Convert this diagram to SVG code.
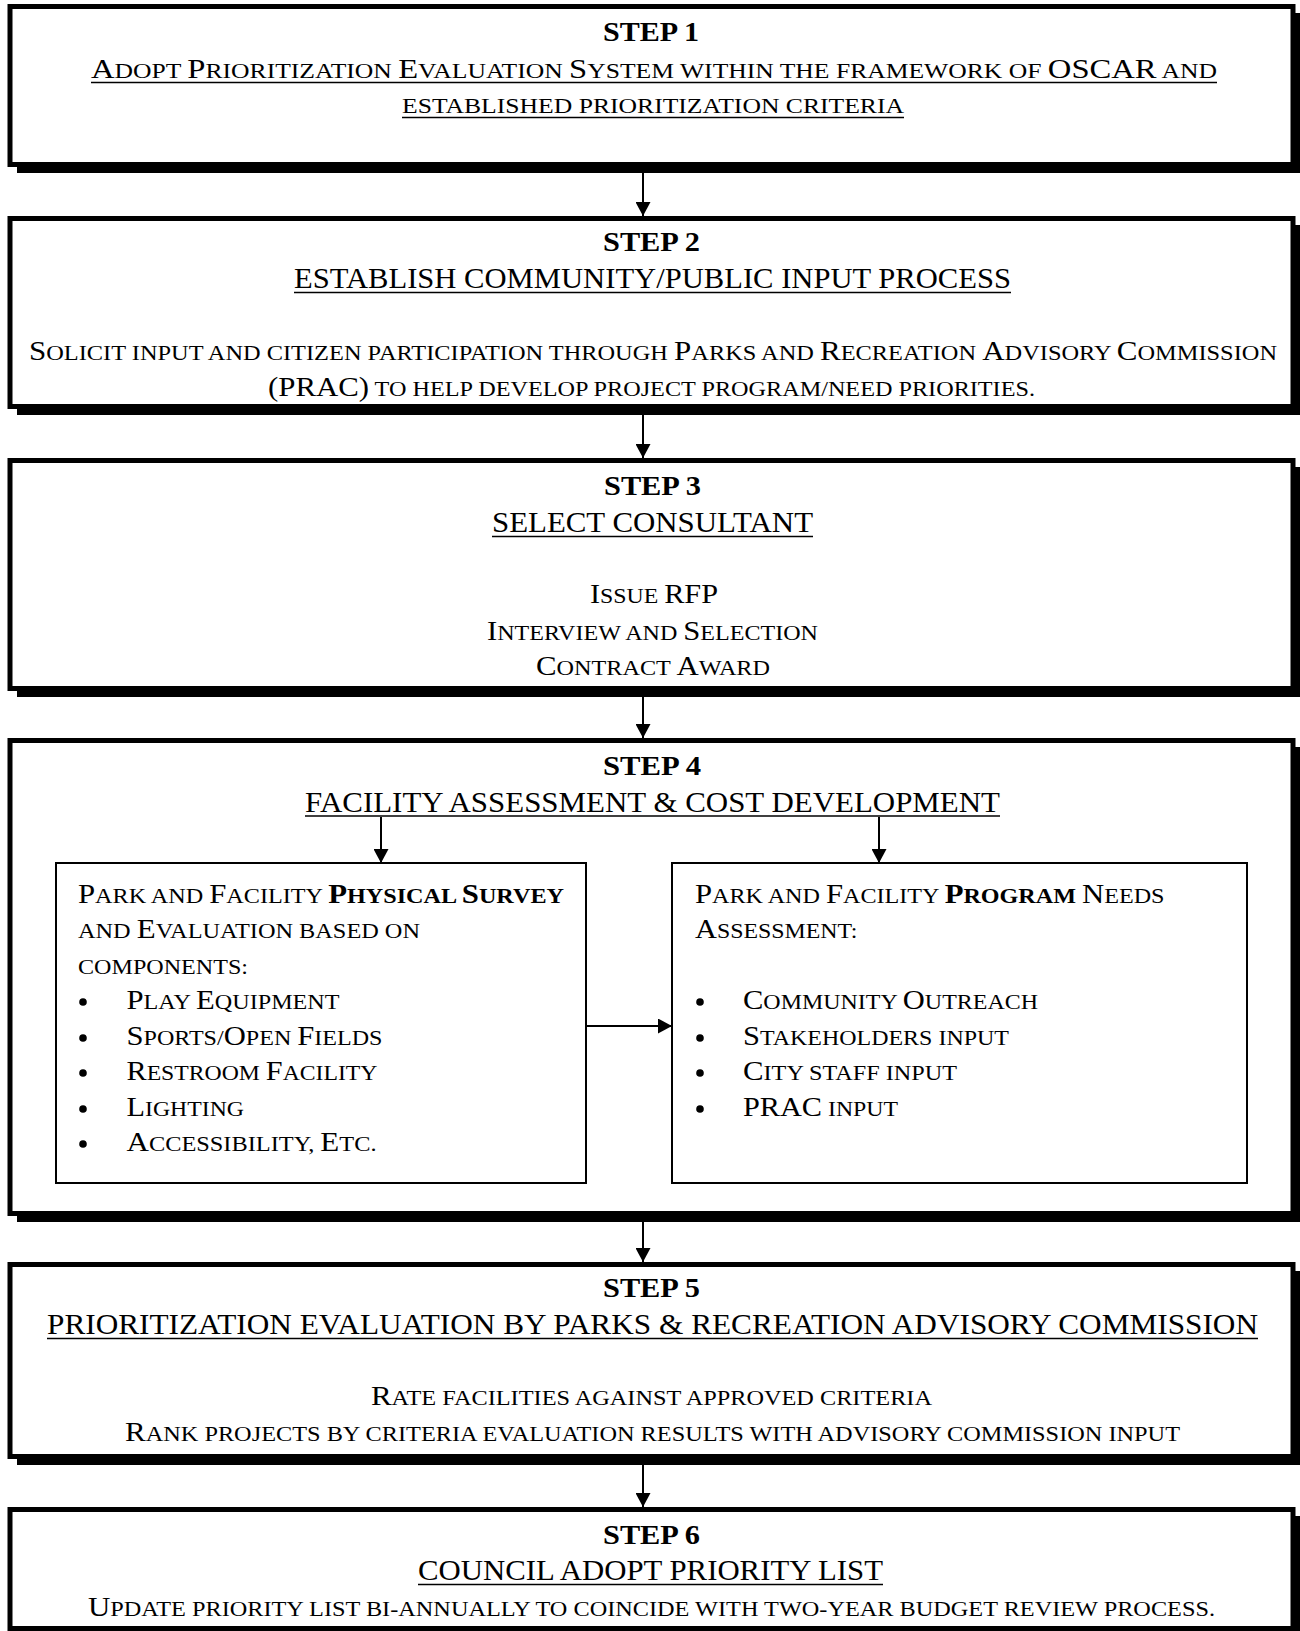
<svg xmlns="http://www.w3.org/2000/svg" width="1300" height="1631" viewBox="0 0 1300 1631">
<style>
.shadow{fill:#000}
.box{fill:#fff;stroke:#000;stroke-width:5}
.inner{fill:#fff;stroke:#000;stroke-width:2}
text{font-family:"Liberation Serif","Times New Roman",serif;fill:#000}
.st{font-size:28px;font-weight:bold}
.hd{font-size:29px}
.sc{font-size:22px}
.B{font-size:28px}
.bd{font-weight:bold}
.ul{stroke:#000;stroke-width:1.6}
.conn{stroke:#000;stroke-width:2;fill:none;marker-end:url(#ah)}
.dot{fill:#000}
</style>
<defs>
<marker id="ah" markerUnits="userSpaceOnUse" markerWidth="14" markerHeight="15" refX="14" refY="7.5" orient="auto">
<path d="M0,0 L14,7.5 L0,15 z" fill="#000"/>
</marker>
</defs>
<rect width="1300" height="1631" fill="#fff"/>

<g id="step1">
<rect class="shadow" x="17" y="13" width="1290" height="160"/>
<rect class="box" x="10" y="6.5" width="1283" height="158"/>
<text class="st" x="603" y="41" textLength="96" lengthAdjust="spacingAndGlyphs">STEP 1</text>
<text class="sc" x="91" y="78" textLength="1126" lengthAdjust="spacingAndGlyphs"><tspan class="B">A</tspan>DOPT <tspan class="B">P</tspan>RIORITIZATION <tspan class="B">E</tspan>VALUATION <tspan class="B">S</tspan>YSTEM WITHIN THE FRAMEWORK OF <tspan class="B">OSCAR</tspan> AND</text>
<line class="ul" x1="91" y1="82.5" x2="1217" y2="82.5"/>
<text class="sc" x="402" y="113" textLength="502" lengthAdjust="spacingAndGlyphs">ESTABLISHED PRIORITIZATION CRITERIA</text>
<line class="ul" x1="402" y1="117.5" x2="904" y2="117.5"/>
</g>

<g id="step2">
<rect class="shadow" x="17" y="225" width="1290" height="190"/>
<rect class="box" x="10" y="218.5" width="1283" height="188"/>
<text class="st" x="603" y="251" textLength="97" lengthAdjust="spacingAndGlyphs">STEP 2</text>
<text class="hd" x="294" y="288" textLength="717" lengthAdjust="spacingAndGlyphs">ESTABLISH COMMUNITY/PUBLIC INPUT PROCESS</text>
<line class="ul" x1="294" y1="292.5" x2="1011" y2="292.5"/>
<text class="sc" x="29" y="360" textLength="1248" lengthAdjust="spacingAndGlyphs"><tspan class="B">S</tspan>OLICIT INPUT AND CITIZEN PARTICIPATION THROUGH <tspan class="B">P</tspan>ARKS AND <tspan class="B">R</tspan>ECREATION <tspan class="B">A</tspan>DVISORY <tspan class="B">C</tspan>OMMISSION</text>
<text class="sc" x="268" y="396" textLength="767" lengthAdjust="spacingAndGlyphs"><tspan class="B">(PRAC)</tspan> TO HELP DEVELOP PROJECT PROGRAM/NEED PRIORITIES.</text>
</g>

<g id="step3">
<rect class="shadow" x="17" y="467" width="1290" height="230"/>
<rect class="box" x="10" y="460.5" width="1283" height="228"/>
<text class="st" x="604" y="495" textLength="97" lengthAdjust="spacingAndGlyphs">STEP 3</text>
<text class="hd" x="492" y="532" textLength="321" lengthAdjust="spacingAndGlyphs">SELECT CONSULTANT</text>
<line class="ul" x1="492" y1="536.5" x2="813" y2="536.5"/>
<text class="sc" x="590" y="603" textLength="128" lengthAdjust="spacingAndGlyphs"><tspan class="B">I</tspan>SSUE <tspan class="B">RFP</tspan></text>
<text class="sc" x="487" y="640" textLength="331" lengthAdjust="spacingAndGlyphs"><tspan class="B">I</tspan>NTERVIEW AND <tspan class="B">S</tspan>ELECTION</text>
<text class="sc" x="536" y="675" textLength="234" lengthAdjust="spacingAndGlyphs"><tspan class="B">C</tspan>ONTRACT <tspan class="B">A</tspan>WARD</text>
</g>

<g id="step4">
<rect class="shadow" x="17" y="747" width="1290" height="475"/>
<rect class="box" x="10" y="740.5" width="1283" height="473"/>
<text class="st" x="603" y="775" textLength="98" lengthAdjust="spacingAndGlyphs">STEP 4</text>
<text class="hd" x="305" y="812" textLength="695" lengthAdjust="spacingAndGlyphs">FACILITY ASSESSMENT &amp; COST DEVELOPMENT</text>
<line class="ul" x1="305" y1="816" x2="1000" y2="816"/>
</g>

<g id="survey">
<rect class="inner" x="56" y="863" width="530" height="320"/>
<text class="sc" x="78" y="903" textLength="486" lengthAdjust="spacingAndGlyphs"><tspan class="B">P</tspan>ARK AND <tspan class="B">F</tspan>ACILITY <tspan class="bd"><tspan class="B">P</tspan>HYSICAL <tspan class="B">S</tspan>URVEY</tspan></text>
<text class="sc" x="78" y="938" textLength="342" lengthAdjust="spacingAndGlyphs">AND <tspan class="B">E</tspan>VALUATION BASED ON</text>
<text class="sc" x="78" y="974" textLength="170" lengthAdjust="spacingAndGlyphs">COMPONENTS:</text>
<circle class="dot" cx="83" cy="1002" r="3.8"/>
<circle class="dot" cx="83" cy="1038" r="3.8"/>
<circle class="dot" cx="83" cy="1073" r="3.8"/>
<circle class="dot" cx="83" cy="1109" r="3.8"/>
<circle class="dot" cx="83" cy="1144" r="3.8"/>
<text class="sc" x="126.5" y="1009" textLength="213" lengthAdjust="spacingAndGlyphs"><tspan class="B">P</tspan>LAY <tspan class="B">E</tspan>QUIPMENT</text>
<text class="sc" x="126.5" y="1045" textLength="256" lengthAdjust="spacingAndGlyphs"><tspan class="B">S</tspan>PORTS/<tspan class="B">O</tspan>PEN <tspan class="B">F</tspan>IELDS</text>
<text class="sc" x="126.5" y="1080" textLength="251" lengthAdjust="spacingAndGlyphs"><tspan class="B">R</tspan>ESTROOM <tspan class="B">F</tspan>ACILITY</text>
<text class="sc" x="126.5" y="1116" textLength="117.5" lengthAdjust="spacingAndGlyphs"><tspan class="B">L</tspan>IGHTING</text>
<text class="sc" x="126.5" y="1151" textLength="250" lengthAdjust="spacingAndGlyphs"><tspan class="B">A</tspan>CCESSIBILITY, <tspan class="B">E</tspan>TC.</text>
</g>

<g id="program">
<rect class="inner" x="672" y="863" width="575" height="320"/>
<text class="sc" x="695" y="903" textLength="469.5" lengthAdjust="spacingAndGlyphs"><tspan class="B">P</tspan>ARK AND <tspan class="B">F</tspan>ACILITY <tspan class="bd"><tspan class="B">P</tspan>ROGRAM</tspan> <tspan class="B">N</tspan>EEDS</text>
<text class="sc" x="695" y="938" textLength="162.5" lengthAdjust="spacingAndGlyphs"><tspan class="B">A</tspan>SSESSMENT:</text>
<circle class="dot" cx="700" cy="1002" r="3.8"/>
<circle class="dot" cx="700" cy="1038" r="3.8"/>
<circle class="dot" cx="700" cy="1073" r="3.8"/>
<circle class="dot" cx="700" cy="1109" r="3.8"/>
<text class="sc" x="743" y="1009" textLength="295" lengthAdjust="spacingAndGlyphs"><tspan class="B">C</tspan>OMMUNITY <tspan class="B">O</tspan>UTREACH</text>
<text class="sc" x="743" y="1045" textLength="266" lengthAdjust="spacingAndGlyphs"><tspan class="B">S</tspan>TAKEHOLDERS INPUT</text>
<text class="sc" x="743" y="1080" textLength="214" lengthAdjust="spacingAndGlyphs"><tspan class="B">C</tspan>ITY STAFF INPUT</text>
<text class="sc" x="743" y="1116" textLength="155" lengthAdjust="spacingAndGlyphs"><tspan class="B">PRAC</tspan> INPUT</text>
</g>

<g id="step5">
<rect class="shadow" x="17" y="1271" width="1290" height="194"/>
<rect class="box" x="10" y="1264.5" width="1283" height="192"/>
<text class="st" x="603" y="1297" textLength="97" lengthAdjust="spacingAndGlyphs">STEP 5</text>
<text class="hd" x="47" y="1334" textLength="1211" lengthAdjust="spacingAndGlyphs">PRIORITIZATION EVALUATION BY PARKS &amp; RECREATION ADVISORY COMMISSION</text>
<line class="ul" x1="47" y1="1338.5" x2="1258" y2="1338.5"/>
<text class="sc" x="371" y="1405" textLength="561" lengthAdjust="spacingAndGlyphs"><tspan class="B">R</tspan>ATE FACILITIES AGAINST APPROVED CRITERIA</text>
<text class="sc" x="125" y="1441" textLength="1055" lengthAdjust="spacingAndGlyphs"><tspan class="B">R</tspan>ANK PROJECTS BY CRITERIA EVALUATION RESULTS WITH ADVISORY COMMISSION INPUT</text>
</g>

<g id="step6">
<rect class="shadow" x="17" y="1516" width="1290" height="130"/>
<rect class="box" x="10" y="1509.5" width="1283" height="119"/>
<text class="st" x="603" y="1544" textLength="97" lengthAdjust="spacingAndGlyphs">STEP 6</text>
<text class="hd" x="418" y="1580" textLength="465" lengthAdjust="spacingAndGlyphs">COUNCIL ADOPT PRIORITY LIST</text>
<line class="ul" x1="418" y1="1584.5" x2="883" y2="1584.5"/>
<text class="sc" x="88" y="1616" textLength="1127" lengthAdjust="spacingAndGlyphs"><tspan class="B">U</tspan>PDATE PRIORITY LIST BI-ANNUALLY TO COINCIDE WITH TWO-YEAR BUDGET REVIEW PROCESS.</text>
</g>

<g id="connectors">
<line class="conn" x1="643" y1="173" x2="643" y2="216"/>
<line class="conn" x1="643" y1="415" x2="643" y2="458"/>
<line class="conn" x1="643" y1="697" x2="643" y2="738"/>
<line class="conn" x1="381" y1="817" x2="381" y2="863"/>
<line class="conn" x1="879" y1="817" x2="879" y2="863"/>
<line class="conn" x1="586" y1="1026" x2="672" y2="1026"/>
<line class="conn" x1="643" y1="1222" x2="643" y2="1262"/>
<line class="conn" x1="643" y1="1465" x2="643" y2="1507"/>
</g>
</svg>
